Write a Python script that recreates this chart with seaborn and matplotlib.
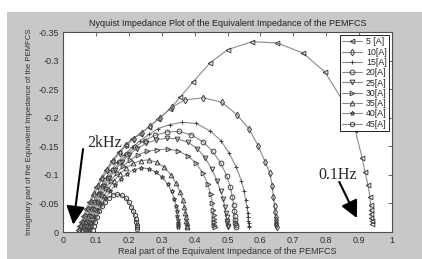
import numpy as np
import pandas as pd
import matplotlib
matplotlib.use("Agg")
import matplotlib.pyplot as plt
from matplotlib.patches import Rectangle
import seaborn as sns

# ------------------------------
# data (real, imag) per load current
# ------------------------------
currents = ["5 [A]", "10[A]", "15[A]", "20[A]", "25[A]", "30[A]", "35[A]", "40[A]", "45[A]"]
markers = ["<", "d", "+", "o", "v", ">", "^", "*", "h"]

re_5 = [0.045, 0.05, 0.055, 0.062, 0.07, 0.08, 0.09, 0.1, 0.115, 0.13, 0.15, 0.17, 0.19, 0.21, 0.235,
        0.26, 0.29, 0.325, 0.356, 0.396, 0.447, 0.50, 0.574, 0.65, 0.73, 0.796, 0.85, 0.888, 0.909,
        0.918, 0.927, 0.933, 0.935, 0.936, 0.937, 0.937, 0.938, 0.938]
im_5 = [-0.003, -0.01, -0.018, -0.028, -0.04, -0.052, -0.065, -0.078, -0.093, -0.108, -0.125, -0.14,
        -0.152, -0.163, -0.172, -0.183, -0.198, -0.215, -0.236, -0.263, -0.296, -0.319, -0.333, -0.331,
        -0.313, -0.28, -0.23, -0.179, -0.13, -0.105, -0.082, -0.061, -0.047, -0.038, -0.031, -0.025,
        -0.019, -0.014]

re_10 = [0.05, 0.055, 0.06, 0.067, 0.075, 0.085, 0.095, 0.107, 0.12, 0.135, 0.152, 0.172, 0.193, 0.215,
         0.24, 0.265, 0.295, 0.33, 0.37, 0.426, 0.483, 0.529, 0.566, 0.593, 0.614, 0.629, 0.636, 0.639,
         0.643, 0.645, 0.646, 0.647, 0.648, 0.648, 0.649]
im_10 = [-0.003, -0.01, -0.018, -0.028, -0.04, -0.053, -0.066, -0.08, -0.094, -0.108, -0.124, -0.139,
         -0.152, -0.163, -0.174, -0.186, -0.2, -0.218, -0.231, -0.235, -0.227, -0.205, -0.18, -0.151,
         -0.123, -0.103, -0.08, -0.062, -0.046, -0.035, -0.027, -0.021, -0.016, -0.012, -0.009]

re_15 = [0.055, 0.06, 0.066, 0.073, 0.082, 0.092, 0.103, 0.116, 0.13, 0.146, 0.165, 0.186, 0.21, 0.235,
         0.262, 0.29, 0.325, 0.362, 0.405, 0.447, 0.48, 0.505, 0.527, 0.542, 0.55, 0.555, 0.559, 0.561,
         0.562, 0.563, 0.564, 0.565, 0.565]
im_15 = [-0.003, -0.01, -0.018, -0.028, -0.04, -0.053, -0.066, -0.08, -0.094, -0.108, -0.122, -0.135,
         -0.148, -0.16, -0.171, -0.181, -0.188, -0.192, -0.19, -0.177, -0.16, -0.138, -0.113, -0.09,
         -0.072, -0.056, -0.044, -0.034, -0.026, -0.02, -0.015, -0.011, -0.008]

re_20 = [0.06, 0.065, 0.071, 0.078, 0.087, 0.097, 0.108, 0.121, 0.136, 0.153, 0.172, 0.195, 0.22, 0.248,
         0.28, 0.315, 0.352, 0.39, 0.425, 0.455, 0.48, 0.498, 0.509, 0.515, 0.519, 0.521, 0.522, 0.523,
         0.524, 0.525, 0.525]
im_20 = [-0.003, -0.01, -0.018, -0.028, -0.04, -0.053, -0.066, -0.08, -0.094, -0.108, -0.122, -0.136,
         -0.149, -0.16, -0.169, -0.175, -0.176, -0.17, -0.158, -0.141, -0.12, -0.098, -0.078, -0.061,
         -0.047, -0.036, -0.028, -0.021, -0.016, -0.012, -0.008]

re_25 = [0.065, 0.07, 0.076, 0.083, 0.092, 0.102, 0.113, 0.126, 0.141, 0.158, 0.178, 0.2, 0.225, 0.252,
         0.282, 0.315, 0.348, 0.38, 0.408, 0.432, 0.452, 0.468, 0.479, 0.487, 0.492, 0.495, 0.497, 0.498,
         0.499, 0.5, 0.5]
im_25 = [-0.003, -0.01, -0.018, -0.028, -0.04, -0.053, -0.066, -0.08, -0.094, -0.108, -0.122, -0.135,
         -0.146, -0.155, -0.161, -0.164, -0.163, -0.157, -0.146, -0.13, -0.11, -0.09, -0.072, -0.057,
         -0.044, -0.034, -0.026, -0.02, -0.015, -0.011, -0.008]

re_30 = [0.07, 0.075, 0.081, 0.088, 0.097, 0.107, 0.118, 0.131, 0.146, 0.163, 0.182, 0.204, 0.228, 0.255,
         0.285, 0.318, 0.35, 0.38, 0.405, 0.425, 0.44, 0.449, 0.454, 0.457, 0.458, 0.459, 0.46, 0.46,
         0.461]
im_30 = [-0.003, -0.01, -0.018, -0.028, -0.04, -0.052, -0.064, -0.077, -0.09, -0.103, -0.115, -0.126,
         -0.135, -0.141, -0.144, -0.145, -0.142, -0.133, -0.12, -0.103, -0.084, -0.066, -0.051, -0.039,
         -0.03, -0.023, -0.017, -0.012, -0.008]

re_35 = [0.075, 0.08, 0.086, 0.093, 0.102, 0.112, 0.124, 0.138, 0.154, 0.172, 0.192, 0.214, 0.237, 0.26,
         0.285, 0.308, 0.328, 0.344, 0.356, 0.364, 0.369, 0.372, 0.374, 0.375, 0.376, 0.377, 0.377]
im_35 = [-0.003, -0.01, -0.018, -0.028, -0.039, -0.051, -0.063, -0.076, -0.089, -0.101, -0.112, -0.12,
         -0.125, -0.126, -0.122, -0.113, -0.1, -0.085, -0.07, -0.056, -0.044, -0.034, -0.026, -0.02,
         -0.015, -0.011, -0.008]

re_40 = [0.08, 0.085, 0.091, 0.098, 0.107, 0.117, 0.129, 0.143, 0.158, 0.175, 0.194, 0.215, 0.237, 0.26,
         0.282, 0.302, 0.318, 0.33, 0.338, 0.343, 0.346, 0.348, 0.349, 0.35, 0.35, 0.351]
im_40 = [-0.003, -0.01, -0.018, -0.027, -0.038, -0.049, -0.06, -0.071, -0.082, -0.093, -0.102, -0.109,
         -0.112, -0.111, -0.105, -0.096, -0.084, -0.071, -0.058, -0.046, -0.036, -0.028, -0.021, -0.016,
         -0.012, -0.008]

re_45 = [0.09, 0.093, 0.097, 0.103, 0.11, 0.119, 0.129, 0.14, 0.152, 0.165, 0.178, 0.19, 0.2, 0.208,
         0.214, 0.218, 0.221, 0.223, 0.224, 0.225, 0.225]
im_45 = [-0.003, -0.01, -0.018, -0.027, -0.036, -0.045, -0.053, -0.06, -0.065, -0.066, -0.064, -0.059,
         -0.052, -0.044, -0.036, -0.029, -0.022, -0.017, -0.012, -0.008, -0.005]

real_parts = [re_5, re_10, re_15, re_20, re_25, re_30, re_35, re_40, re_45]
imag_parts = [im_5, im_10, im_15, im_20, im_25, im_30, im_35, im_40, im_45]

x_ticks = [0, 0.1, 0.2, 0.3, 0.4, 0.5, 0.6, 0.7, 0.8, 0.9, 1]
x_ticklabels = ["0", "0.1", "0.2", "0.3", "0.4", "0.5", "0.6", "0.7", "0.8", "0.9", "1"]
y_ticks = [0, -0.05, -0.1, -0.15, -0.2, -0.25, -0.3, -0.35]
y_ticklabels = ["0", "-0.05", "-0.1", "-0.15", "-0.2", "-0.25", "-0.3", "-0.35"]

# ------------------------------
# figure
# ------------------------------
sns.set_style("white")
plt.rcParams["font.family"] = ["Liberation Sans", "DejaVu Sans"]

W, H = 422, 259
fig = plt.figure(figsize=(W / 100, H / 100), dpi=100, facecolor="white")
# matlab grey window with a thin white strip top/left
fig.patches.append(Rectangle((7 / W, 0), 1 - 7 / W, 1 - 12 / H, transform=fig.transFigure,
                             facecolor="#c8c8c8", edgecolor="none", zorder=-10))
ax = fig.add_axes([63 / W, 27 / H, 329 / W, 200 / H])
ax.set_facecolor("white")

handles = []
for lab, mk, xs, ys in zip(currents, markers, real_parts, imag_parts):
    df = pd.DataFrame({"real": xs, "imag": ys})
    sns.lineplot(data=df, x="real", y="imag", ax=ax, sort=False, estimator=None,
                 color="#8a8a8a", lw=0.8, marker=mk, markersize=3.4,
                 markerfacecolor="none", markeredgecolor="#404040", markeredgewidth=0.7,
                 legend=False)
    handles.append(ax.lines[-1])

ax.set_xlim(0, 1)
ax.set_ylim(0, -0.35)
ax.set_xticks(x_ticks)
ax.set_xticklabels(x_ticklabels)
ax.set_yticks(y_ticks)
ax.set_yticklabels(y_ticklabels)
ax.tick_params(direction="in", length=3, width=0.6, top=True, right=True,
               labelsize=6.5, labelcolor="#303030", colors="#505050", pad=3)
for s in ax.spines.values():
    s.set_color("#505050")
    s.set_linewidth(0.8)

ax.set_title("Nyquist Impedance Plot of the Equivalent Impedance of the PEMFCS",
             fontsize=6.5, color="#202020", pad=4)
ax.set_xlabel("Real part of the Equivalent Impedance of the PEMFCS", fontsize=6.5,
              color="#303030", labelpad=1)
ax.set_ylabel("Imaginary part of the Equivalent Impedance of the PEMFCS", fontsize=5.6,
              color="#303030", labelpad=4)

leg = ax.legend(handles, currents, loc="upper right", fontsize=6.3, frameon=True,
                fancybox=False, borderaxespad=0.3, handlelength=2.2, handletextpad=0.5,
                labelspacing=0.15, borderpad=0.3, edgecolor="black", framealpha=1)
leg.get_frame().set_linewidth(0.6)

# frequency annotations
ax.annotate("", xy=(0.03, -0.008), xytext=(0.062, -0.15),
            arrowprops=dict(arrowstyle="-|>", lw=1.5, color="black", mutation_scale=28))
ax.text(0.073, -0.156, "2kHz", family="Liberation Serif", fontsize=11.5, va="center", ha="left")
ax.annotate("", xy=(0.897, -0.02), xytext=(0.836, -0.092),
            arrowprops=dict(arrowstyle="-|>", lw=1.5, color="black", mutation_scale=26))
ax.text(0.775, -0.1, "0.1Hz", family="Liberation Serif", fontsize=11.5, va="center", ha="left")

fig.savefig("out.png", dpi=100, facecolor=fig.get_facecolor())
